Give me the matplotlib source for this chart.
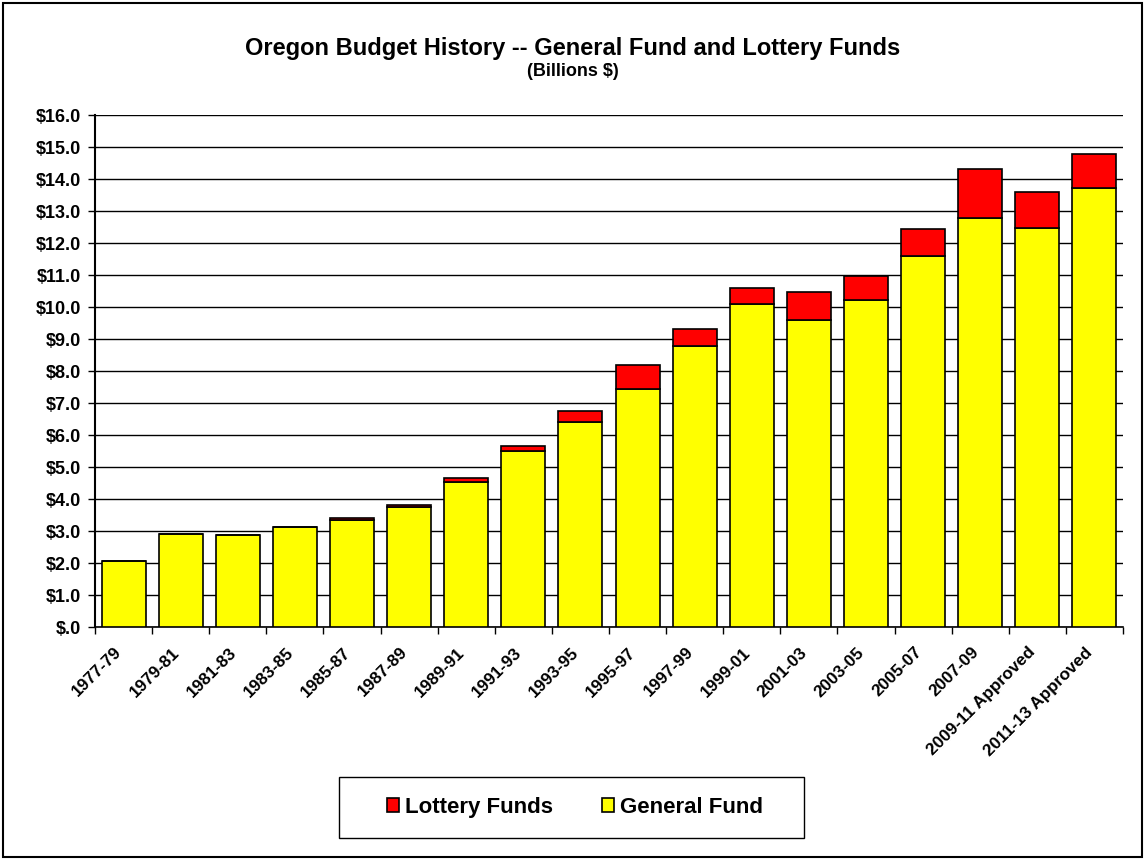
import matplotlib
matplotlib.use("Agg")
import matplotlib.pyplot as plt
import matplotlib.transforms as mtransforms
from matplotlib.patches import Rectangle
from matplotlib.ticker import FuncFormatter, MultipleLocator

plt.rcParams['font.family'] = ['Liberation Sans', 'DejaVu Sans']

categories = ["1977-79", "1979-81", "1981-83", "1983-85", "1985-87", "1987-89",
              "1989-91", "1991-93", "1993-95", "1995-97", "1997-99", "1999-01",
              "2001-03", "2003-05", "2005-07", "2007-09", "2009-11 Approved",
              "2011-13 Approved"]
general_fund = [2.06, 2.90, 2.86, 3.11, 3.33, 3.74, 4.52, 5.51, 6.41, 7.43,
                8.77, 10.08, 9.58, 10.22, 11.60, 12.77, 12.48, 13.72]
lottery_funds = [0.0, 0.0, 0.0, 0.0, 0.07, 0.07, 0.14, 0.14, 0.33, 0.76,
                 0.55, 0.50, 0.89, 0.75, 0.83, 1.55, 1.12, 1.06]

W, H = 1145, 860
fig = plt.figure(figsize=(W / 100, H / 100), dpi=100)
ax = fig.add_axes([95 / W, 1 - 627 / H, (1123 - 95) / W, (627 - 115) / H])

x = list(range(len(categories)))
ax.bar(x, general_fund, width=0.77, color="#FFFF00", edgecolor="black",
       linewidth=1.2, label="General Fund", zorder=3)
ax.bar(x, lottery_funds, width=0.77, bottom=general_fund, color="#FF0000",
       edgecolor="black", linewidth=1.2, label="Lottery Funds", zorder=3)

ax.set_xlim(-0.5, len(categories) - 0.5)
ax.set_ylim(0, 16)
ax.yaxis.set_major_locator(MultipleLocator(1))


def fmt(v, pos):
    s = f"{v:.1f}"
    if s.startswith("0."):
        s = s[1:]
    return "$" + s


ax.yaxis.set_major_formatter(FuncFormatter(fmt))
ax.grid(axis="y", color="black", linewidth=1.0, zorder=0)
for side in ["top", "right"]:
    ax.spines[side].set_visible(False)
ax.spines["left"].set_linewidth(1.5)
ax.spines["bottom"].set_linewidth(1.2)

ax.set_xticks([i - 0.5 for i in range(len(categories) + 1)], minor=False)
ax.set_xticklabels([])
ax.tick_params(axis="x", which="major", length=5, width=1, direction="out")
ax.set_xticks(x, minor=True)
ax.set_xticklabels(categories, minor=True, rotation=45, ha="right", va="center",
                   rotation_mode="anchor", fontsize=12.3, fontweight="bold")
ax.tick_params(axis="x", which="minor", length=0, pad=16.5)
offset = mtransforms.ScaledTranslation(-4 / 100, 0, fig.dpi_scale_trans)
for lbl in ax.get_xticklabels(minor=True):
    lbl.set_transform(lbl.get_transform() + offset)
ax.tick_params(axis="y", length=5, width=1, direction="out", labelsize=13, pad=5)
for lbl in ax.get_yticklabels():
    lbl.set_fontweight("bold")

fig.text(0.5, 1 - 48 / H, "Oregon Budget History -- General Fund and Lottery Funds",
         ha="center", va="center", fontsize=17, fontweight="bold")
fig.text(0.5, 1 - 72 / H, "(Billions $)", ha="center", va="center",
         fontsize=13, fontweight="bold")

# legend box
fig.patches.append(Rectangle((339 / W, 1 - 838 / H), 465 / W, 61 / H,
                             transform=fig.transFigure, facecolor="white",
                             edgecolor="black", linewidth=1.0))
handles, labels = ax.get_legend_handles_labels()
leg = fig.legend(handles[::-1], labels[::-1], loc="center",
                 bbox_to_anchor=(575 / W, 1 - 807.5 / H), ncol=2,
                 frameon=False, prop={"weight": "bold", "size": 16},
                 handlelength=0.55, handleheight=0.6, handletextpad=0.25,
                 columnspacing=2.2)

# figure border
fig.patches.append(Rectangle((3 / W, 3 / H), (W - 6) / W, (H - 6) / H,
                             transform=fig.transFigure, facecolor="none",
                             edgecolor="black", linewidth=1.5))

fig.savefig("out.png", dpi=100, facecolor="white")
